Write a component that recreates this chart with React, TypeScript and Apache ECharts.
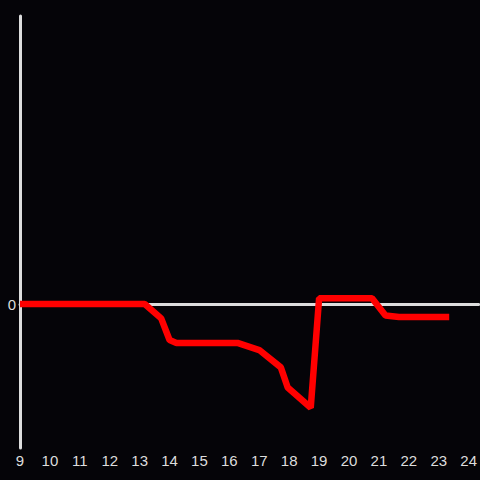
import React, { useEffect, useRef } from "react";
import * as echarts from "echarts";

const hours = [9, 13.17, 13.72, 14.0, 14.23, 16.27, 17.0, 17.72, 17.95, 18.72, 19.0, 20.77, 21.22, 21.67, 23.35];
const values = [0, 0, -0.1, -0.25, -0.27, -0.27, -0.32, -0.44, -0.58, -0.72, 0.04, 0.04, -0.08, -0.09, -0.09];
const xTicks = [9, 10, 11, 12, 13, 14, 15, 16, 17, 18, 19, 20, 21, 22, 23, 24];

export default function App() {
  const ref = useRef<HTMLDivElement>(null);
  useEffect(() => {
    const chart = echarts.init(ref.current!, undefined, { renderer: "svg" });
    chart.setOption({
      animation: false,
      backgroundColor: "#050408",
      grid: { left: 20, right: 0, top: 16, bottom: 32 },
      xAxis: {
        type: "value",
        min: 9,
        max: 24.333,
        interval: 1,
        axisLine: { onZero: true, lineStyle: { color: "#dddddd", width: 3 } },
        axisTick: { show: false },
        splitLine: { show: false },
        axisLabel: {
          color: "#dddddd",
          fontSize: 15,
          fontFamily: "Liberation Sans",
          showMaxLabel: false,
          margin: 5,
          formatter: (v: number) => (xTicks.includes(v) ? String(v) : ""),
        },
      },
      yAxis: {
        type: "value",
        min: -1,
        max: 2,
        interval: 1,
        axisLine: { show: true, lineStyle: { color: "#dddddd", width: 3 } },
        axisTick: { show: false },
        splitLine: { show: false },
        axisLabel: {
          color: "#dddddd",
          fontSize: 15,
          fontFamily: "Liberation Sans",
          margin: 4,
          formatter: (v: number) => (v === 0 ? "0" : ""),
        },
      },
      series: [
        {
          type: "line",
          data: hours.map((h, i) => [h, values[i]]),
          showSymbol: false,
          symbol: "none",
          lineStyle: { color: "#ff0000", width: 6.5 },
        },
      ],
    });
    return () => chart.dispose();
  }, []);
  return <div ref={ref} style={{ width: 480, height: 480, position: "fixed", left: 0, top: 0 }} />;
}
